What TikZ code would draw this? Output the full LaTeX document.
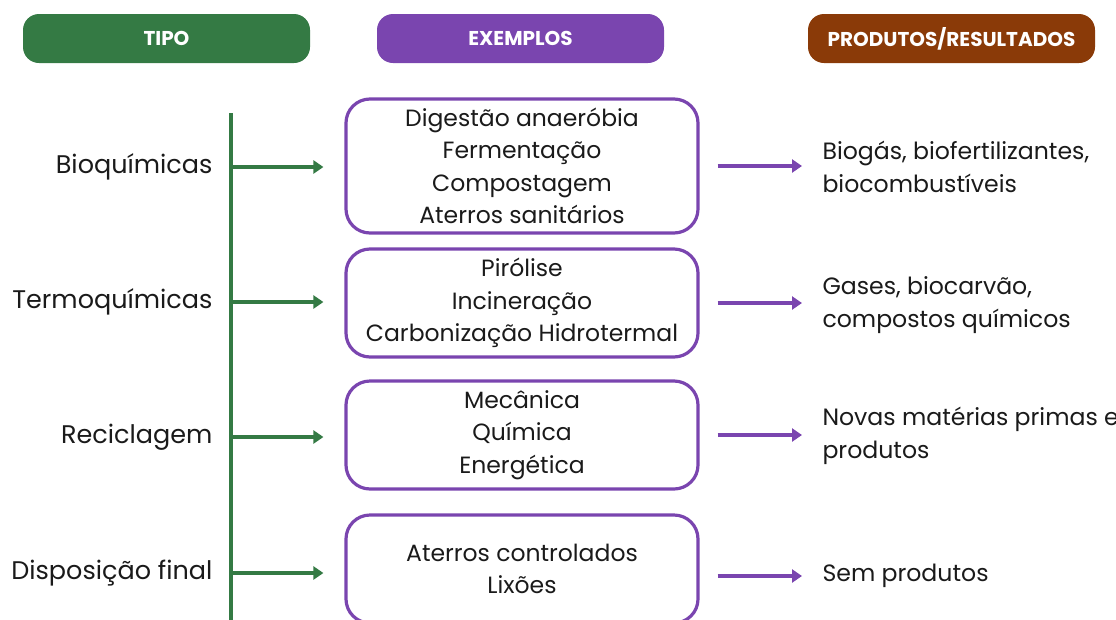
\documentclass[tikz,border=0pt]{standalone}
\usepackage{fontspec}
\setmainfont{Poppins}
\usetikzlibrary{arrows.meta,positioning}
\definecolor{tipogreen}{HTML}{347A44}
\definecolor{exviolet}{HTML}{7A45AF}
\definecolor{resbrown}{HTML}{8A3A08}
\definecolor{textgray}{HTML}{1A1A1A}

\begin{document}
\begin{tikzpicture}[
  x=1pt, y=-1pt,
  >={Triangle[length=10pt,width=13pt]},
  head/.style={rectangle, rounded corners=16pt, minimum width=287pt, minimum height=49pt, text=white, font=\fontsize{20}{24}\selectfont\bfseries},
  exbox/.style={rectangle, draw=exviolet, line width=3.2pt, rounded corners=24pt, minimum width=352pt, align=center, text=textgray, font=\fontsize{23.5}{32.5}\selectfont},
  tipo/.style={anchor=east, text=textgray, font=\fontsize{25.5}{28}\selectfont},
  res/.style={anchor=west, align=left, text=textgray, font=\fontsize{23.6}{32.5}\selectfont},
  gflow/.style={->, draw=tipogreen, line width=3.5pt, shorten >=21pt},
  vflow/.style={->, draw=exviolet, line width=3.5pt, shorten <=18pt, shorten >=17pt}
]
  \useasboundingbox (0,0) rectangle (1116,619);
  % cabecalhos
  \node[head, fill=tipogreen] (htipo) at (166.5,38.5) {TIPO};
  \node[head, fill=exviolet] (hex) at (520.5,38.5) {EXEMPLOS};
  \node[head, fill=resbrown] (hres) at (951.5,38.5) {PRODUTOS/RESULTADOS};

  % tipos
  \node[tipo] (bio) at (216,167) {Bioquímicas};
  \node[tipo] (termo) at (216,302) {Termoquímicas};
  \node[tipo] (recic) at (216,437) {Reciclagem};
  \node[tipo] (disp) at (216,573) {Disposição final};

  % exemplos
  \node[exbox, minimum height=134pt] (ex1) at (522,166) {Digestão anaeróbia\\Fermentação\\Compostagem\\Aterros sanitários};
  \node[exbox, minimum height=108pt] (ex2) at (522,303) {Pirólise\\Incineração\\Carbonização Hidrotermal};
  \node[exbox, minimum height=108pt] (ex3) at (522,435) {Mecânica\\Química\\Energética};
  \node[exbox, minimum height=108pt] (ex4) at (522,569) {Aterros controlados\\Lixões};

  % resultados
  \node[res] (res1) at (819,167) {Biogás, biofertilizantes,\\biocombustíveis};
  \node[res] (res2) at (819,305) {Gases, biocarvão,\\compostos químicos};
  \node[res] (res3) at (819,436) {Novas matérias primas e\\produtos};
  \node[res] (res4) at (819,576) {Sem produtos};

  % tronco verde
  \coordinate (ttop) at (231,113);
  \coordinate (tbot) at (231,625);
  \draw[draw=tipogreen, line width=3.5pt] (ttop) -- (tbot);
  \draw[gflow] (bio -| ttop) -- (bio -| ex1.west);
  \draw[gflow] (termo -| ttop) -- (termo -| ex2.west);
  \draw[gflow] (recic -| ttop) -- (recic -| ex3.west);
  \draw[gflow] (disp -| ttop) -- (disp -| ex4.west);

  \draw[vflow] (ex1.east) -- (ex1.east -| res1.west);
  \draw[vflow] (ex2.east) -- (ex2.east -| res2.west);
  \draw[vflow] (ex3.east) -- (ex3.east -| res3.west);
  \draw[vflow] (res4.west -| ex4.east) -- (res4.west);
\end{tikzpicture}
\end{document}
